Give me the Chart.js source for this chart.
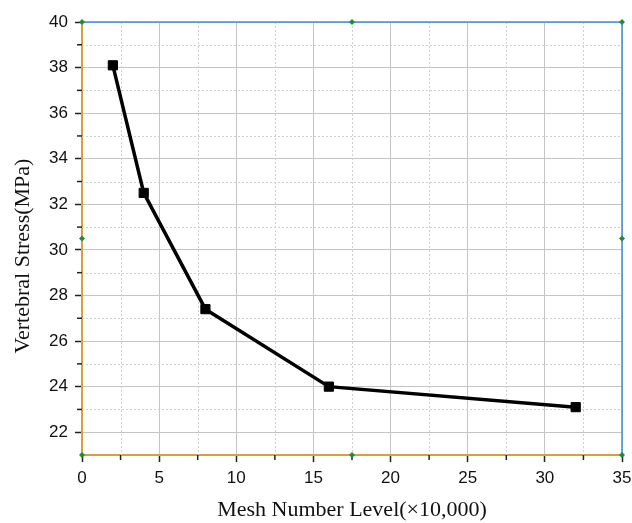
<!DOCTYPE html>
<html>
<head>
<meta charset="utf-8">
<script src="https://cdn.jsdelivr.net/npm/chart.js@4.4.1/dist/chart.umd.min.js"></script>
<style>
  html, body { margin: 0; padding: 0; background: #fff; }
  canvas { display: block; }
</style>
</head>
<body>
<canvas id="chart" width="632" height="523"></canvas>
<script>
// Data
const meshLevels = [2, 4, 8, 16, 32];
const stressValues = [38.1, 32.5, 27.4, 24.0, 23.1];

// Axis ticks
const xTicks = [0, 5, 10, 15, 20, 25, 30, 35];
const yTicks = [22, 24, 26, 28, 30, 32, 34, 36, 38, 40];
const xMinorTicks = [2.5, 7.5, 12.5, 17.5, 22.5, 27.5, 32.5];
const yMinorTicks = [23, 25, 27, 29, 31, 33, 35, 37, 39];

// Frame handle positions (small green dots on the layer frame)
const handleX = [0, 17.5, 35];
const handleY = [21, 30.5, 40];

const yTitle = 'Vertebral Stress(MPa)';

const AXIS_ORANGE = '#d6a03a';
const AXIS_BLUE = '#3f8fdc';
const SERIF = '"Liberation Serif", "Times New Roman", serif';
const SANS = '"Liberation Sans", Arial, sans-serif';

/**
 * Minor dotted grid, minor ticks, blue top/right frame, handles, y title
 */
const framePlugin = {
  id: 'frame',
  beforeDatasetsDraw(chart) {
    const { ctx, chartArea: a, scales: { x, y } } = chart;
    ctx.save();
    ctx.strokeStyle = '#cfcfcf';
    ctx.lineWidth = 1;
    ctx.setLineDash([2, 2]);
    xMinorTicks.forEach(v => {
      const px = Math.round(x.getPixelForValue(v)) + 0.5;
      ctx.beginPath();
      ctx.moveTo(px, a.top);
      ctx.lineTo(px, a.bottom);
      ctx.stroke();
    });
    yMinorTicks.forEach(v => {
      const py = Math.round(y.getPixelForValue(v)) + 0.5;
      ctx.beginPath();
      ctx.moveTo(a.left, py);
      ctx.lineTo(a.right, py);
      ctx.stroke();
    });
    ctx.restore();
  },
  afterDraw(chart) {
    const { ctx, chartArea: a, scales: { x, y } } = chart;
    ctx.save();

    // Minor tick marks
    ctx.strokeStyle = '#222';
    ctx.lineWidth = 1.5;
    xMinorTicks.forEach(v => {
      const px = x.getPixelForValue(v);
      ctx.beginPath();
      ctx.moveTo(px, a.bottom);
      ctx.lineTo(px, a.bottom + 5);
      ctx.stroke();
    });
    yMinorTicks.forEach(v => {
      const py = y.getPixelForValue(v);
      ctx.beginPath();
      ctx.moveTo(a.left, py);
      ctx.lineTo(a.left - 5, py);
      ctx.stroke();
    });

    // Top and right frame lines
    ctx.strokeStyle = AXIS_BLUE;
    ctx.lineWidth = 1.5;
    ctx.beginPath();
    ctx.moveTo(a.left, a.top);
    ctx.lineTo(a.right, a.top);
    ctx.lineTo(a.right, a.bottom);
    ctx.stroke();

    // Handles
    ctx.fillStyle = '#1e8c3c';
    handleX.forEach((hx, i) => {
      handleY.forEach((hy, j) => {
        if (i === 1 && j === 1) return;
        const px = x.getPixelForValue(hx);
        const py = y.getPixelForValue(hy);
        ctx.beginPath();
        ctx.moveTo(px, py - 3);
        ctx.lineTo(px + 3, py);
        ctx.lineTo(px, py + 3);
        ctx.lineTo(px - 3, py);
        ctx.closePath();
        ctx.fill();
      });
    });

    // Y axis title (sits a little below the axis centre in the original)
    ctx.translate(23, 256);
    ctx.rotate(-Math.PI / 2);
    ctx.fillStyle = '#111';
    ctx.font = '22px ' + SERIF;
    ctx.textAlign = 'center';
    ctx.textBaseline = 'middle';
    ctx.fillText(yTitle, 0, 0);
    ctx.restore();
  }
};

new Chart(document.getElementById('chart'), {
  type: 'line',
  data: {
    labels: meshLevels,
    datasets: [{
      data: meshLevels.map((m, i) => ({ x: m, y: stressValues[i] })),
      borderColor: '#000',
      borderWidth: 3.5,
      backgroundColor: '#000',
      pointStyle: 'rect',
      pointRadius: 6.5,
      pointBorderWidth: 1,
      tension: 0
    }]
  },
  options: {
    responsive: false,
    animation: false,
    layout: { padding: { top: 22, right: 10, left: 0, bottom: 0 } },
    plugins: {
      legend: { display: false },
      tooltip: { enabled: false }
    },
    scales: {
      x: {
        type: 'linear',
        min: 0,
        max: 35,
        afterBuildTicks: scale => { scale.ticks = xTicks.map(v => ({ value: v })); },
        afterFit: scale => {
          scale.height = 68;
          scale.paddingLeft = 0;
          scale.paddingRight = 0;
        },
        grid: {
          color: '#c4c4c4',
          lineWidth: 1,
          tickColor: '#222',
          tickLength: 7,
          tickWidth: 1.5
        },
        border: { color: AXIS_ORANGE, width: 2 },
        ticks: {
          color: '#111',
          padding: 6,
          maxRotation: 0,
          font: { family: SANS, size: 17 }
        },
        title: {
          display: true,
          text: 'Mesh Number Level(×10,000)',
          color: '#111',
          padding: { top: 0, bottom: 0 },
          font: { family: SERIF, size: 22 }
        }
      },
      y: {
        type: 'linear',
        min: 21,
        max: 40,
        afterBuildTicks: scale => { scale.ticks = yTicks.map(v => ({ value: v })); },
        afterFit: scale => {
          scale.width = 82;
          scale.paddingTop = 0;
          scale.paddingBottom = 0;
        },
        grid: {
          color: '#c4c4c4',
          lineWidth: 1,
          tickColor: '#222',
          tickLength: 7,
          tickWidth: 1.5
        },
        border: { color: AXIS_ORANGE, width: 2 },
        ticks: {
          color: '#111',
          padding: 7,
          font: { family: SANS, size: 17 }
        }
      }
    }
  },
  plugins: [framePlugin]
});
</script>
</body>
</html>
